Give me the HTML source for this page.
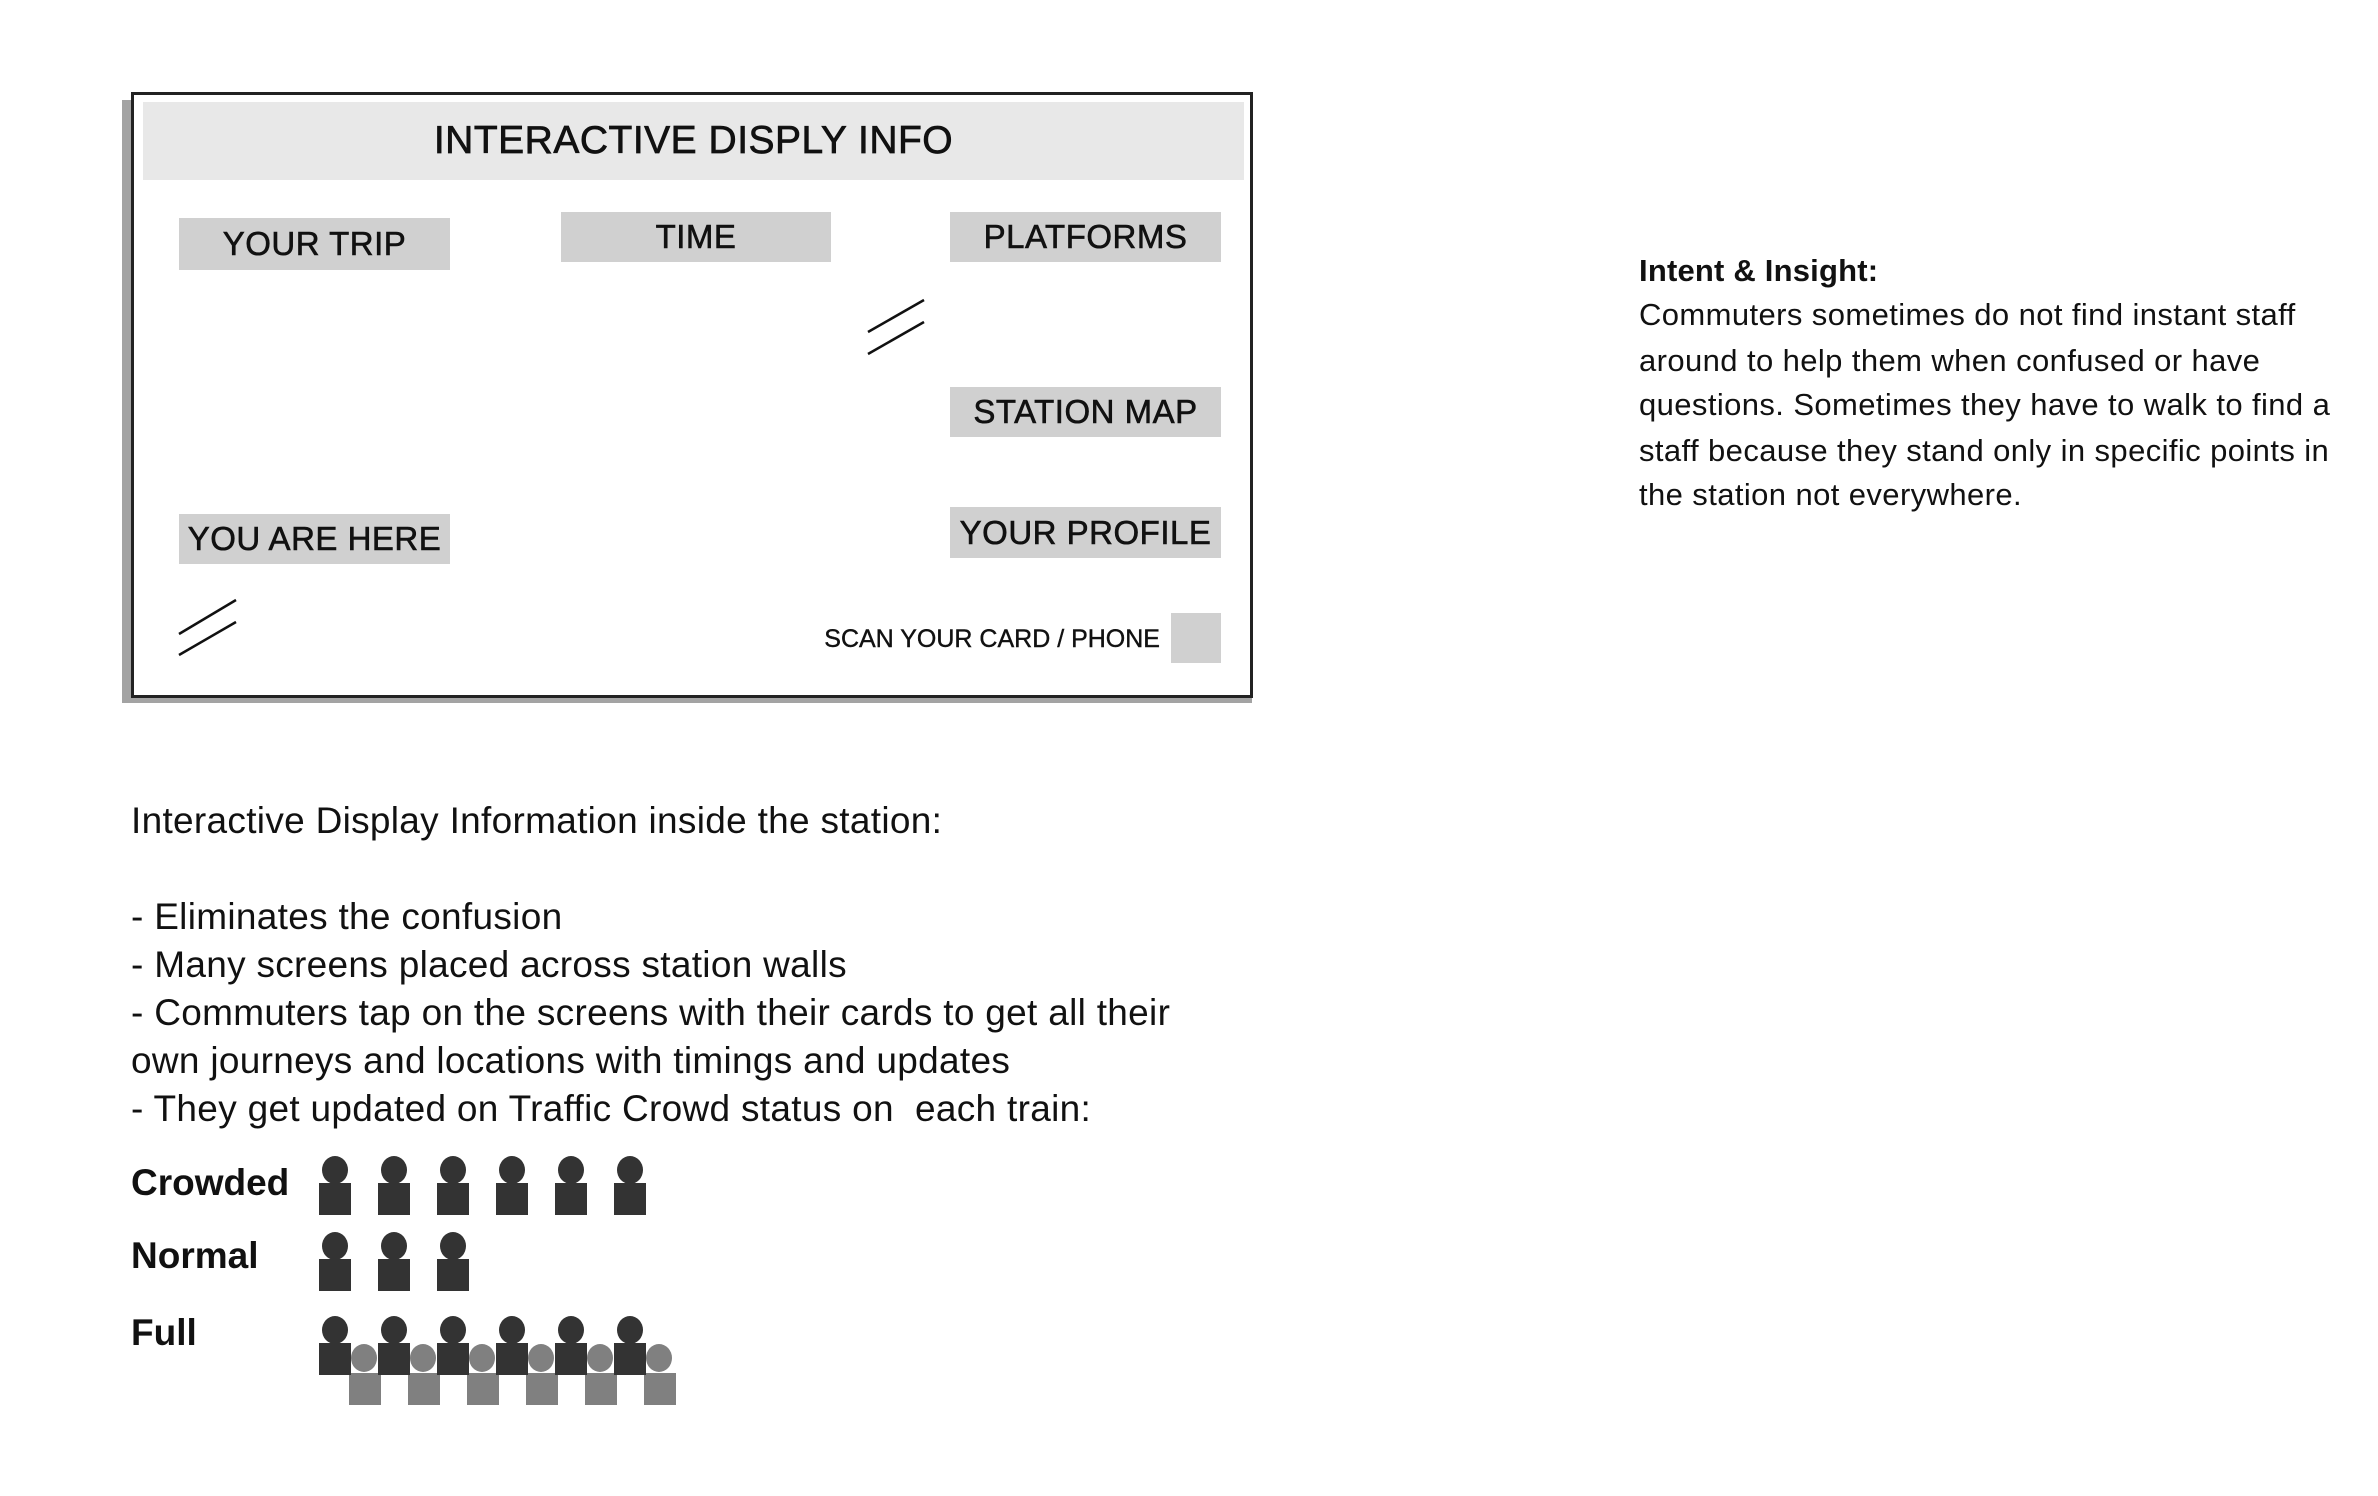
<!DOCTYPE html>
<html><head><meta charset="utf-8"><style>
body{margin:0;width:2378px;height:1496px;background:#fff;position:relative;overflow:hidden;font-family:"Liberation Sans",sans-serif;color:#111}
.a{position:absolute;white-space:nowrap}
.lab{position:absolute;background:#d0d0d0;font-size:33px;display:flex;align-items:center;justify-content:center;letter-spacing:0.5px;-webkit-text-stroke:0.6px #111}
.t{position:absolute;white-space:nowrap;font-size:37px;line-height:48px;left:131px;letter-spacing:0.3px}
.r{position:absolute;white-space:nowrap;font-size:31px;line-height:44px;left:1639px;letter-spacing:0.4px}
.h{position:absolute;width:26px;height:28px;border-radius:50%;background:#333}
.b{position:absolute;width:32px;height:32px;background:#333}
.g{background:#808080}
</style></head><body>
<div style="position:absolute;left:122px;top:100px;width:1130px;height:603px;background:#a3a3a3"></div>
<div style="position:absolute;left:131px;top:92px;width:1116px;height:600px;border:3px solid #222;background:#fff"></div>
<div style="position:absolute;left:143px;top:102px;width:1101px;height:78px;background:#e8e8e8"></div>
<div class="a" style="left:143px;top:102px;width:1101px;height:78px;line-height:78px;text-align:center;font-size:39px;letter-spacing:0.5px;-webkit-text-stroke:0.7px #111">INTERACTIVE DISPLY INFO</div>
<div class="lab" style="left:179px;top:218px;width:271px;height:52px">YOUR TRIP</div>
<div class="lab" style="left:561px;top:212px;width:270px;height:50px">TIME</div>
<div class="lab" style="left:950px;top:212px;width:271px;height:50px">PLATFORMS</div>
<div class="lab" style="left:950px;top:387px;width:271px;height:50px">STATION MAP</div>
<div class="lab" style="left:950px;top:507px;width:271px;height:51px">YOUR PROFILE</div>
<div class="lab" style="left:179px;top:514px;width:271px;height:50px">YOU ARE HERE</div>
<div style="position:absolute;left:1171px;top:613px;width:50px;height:50px;background:#d0d0d0"></div>
<div class="a" style="right:1218px;top:622px;font-size:25px;line-height:34px;-webkit-text-stroke:0.4px #111">SCAN YOUR CARD / PHONE</div>
<svg style="position:absolute;left:0;top:0" width="2378" height="1496">
<g stroke="#111" stroke-width="2.5">
<line x1="868" y1="332" x2="924" y2="300"/><line x1="868" y1="354" x2="924" y2="322"/>
<line x1="179" y1="634" x2="236" y2="600"/><line x1="179" y1="655" x2="236" y2="622"/>
</g></svg>
<div class="t" style="top:797px">Interactive Display Information inside the station:</div>
<div class="t" style="top:893px">- Eliminates the confusion</div>
<div class="t" style="top:941px">- Many screens placed across station walls</div>
<div class="t" style="top:989px">- Commuters tap on the screens with their cards to get all their</div>
<div class="t" style="top:1037px">own journeys and locations with timings and updates</div>
<div class="t" style="top:1085px">- They get updated on Traffic Crowd status on&nbsp; each train:</div>
<div class="t" style="top:1159px;font-weight:bold;letter-spacing:0px">Crowded</div>
<div class="t" style="top:1232px;font-weight:bold;letter-spacing:0px">Normal</div>
<div class="t" style="top:1309px;font-weight:bold;letter-spacing:0px">Full</div>
<div class="r" style="top:249px;font-weight:bold;letter-spacing:0.2px">Intent &amp; Insight:</div>
<div class="r" style="top:293px">Commuters sometimes do not find instant staff</div>
<div class="r" style="top:339px">around to help them when confused or have</div>
<div class="r" style="top:383px">questions. Sometimes they have to walk to find a</div>
<div class="r" style="top:429px">staff because they stand only in specific points in</div>
<div class="r" style="top:473px">the station not everywhere.</div>
<!-- crowded -->
<div class="h" style="left:322px;top:1156px"></div><div class="b" style="left:319px;top:1183px"></div>
<div class="h" style="left:381px;top:1156px"></div><div class="b" style="left:378px;top:1183px"></div>
<div class="h" style="left:440px;top:1156px"></div><div class="b" style="left:437px;top:1183px"></div>
<div class="h" style="left:499px;top:1156px"></div><div class="b" style="left:496px;top:1183px"></div>
<div class="h" style="left:558px;top:1156px"></div><div class="b" style="left:555px;top:1183px"></div>
<div class="h" style="left:617px;top:1156px"></div><div class="b" style="left:614px;top:1183px"></div>
<!-- normal -->
<div class="h" style="left:322px;top:1232px"></div><div class="b" style="left:319px;top:1259px"></div>
<div class="h" style="left:381px;top:1232px"></div><div class="b" style="left:378px;top:1259px"></div>
<div class="h" style="left:440px;top:1232px"></div><div class="b" style="left:437px;top:1259px"></div>
<!-- full gray -->
<div class="h g" style="left:351px;top:1344px"></div><div class="b g" style="left:349px;top:1373px"></div>
<div class="h g" style="left:410px;top:1344px"></div><div class="b g" style="left:408px;top:1373px"></div>
<div class="h g" style="left:469px;top:1344px"></div><div class="b g" style="left:467px;top:1373px"></div>
<div class="h g" style="left:528px;top:1344px"></div><div class="b g" style="left:526px;top:1373px"></div>
<div class="h g" style="left:587px;top:1344px"></div><div class="b g" style="left:585px;top:1373px"></div>
<div class="h g" style="left:646px;top:1344px"></div><div class="b g" style="left:644px;top:1373px"></div>
<!-- full dark -->
<div class="h" style="left:322px;top:1316px"></div><div class="b" style="left:319px;top:1343px"></div>
<div class="h" style="left:381px;top:1316px"></div><div class="b" style="left:378px;top:1343px"></div>
<div class="h" style="left:440px;top:1316px"></div><div class="b" style="left:437px;top:1343px"></div>
<div class="h" style="left:499px;top:1316px"></div><div class="b" style="left:496px;top:1343px"></div>
<div class="h" style="left:558px;top:1316px"></div><div class="b" style="left:555px;top:1343px"></div>
<div class="h" style="left:617px;top:1316px"></div><div class="b" style="left:614px;top:1343px"></div>
</body></html>
